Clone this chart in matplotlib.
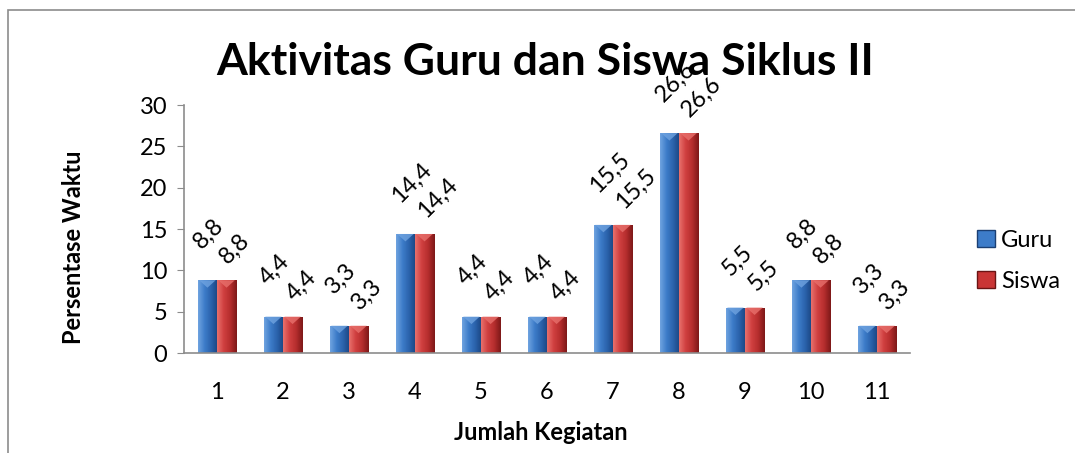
import numpy as np
import matplotlib
matplotlib.use("Agg")
import matplotlib.pyplot as plt
from matplotlib.colors import LinearSegmentedColormap
from matplotlib.patches import Rectangle, Polygon, Patch

categories = ["1", "2", "3", "4", "5", "6", "7", "8", "9", "10", "11"]
guru = [8.8, 4.4, 3.3, 14.4, 4.4, 4.4, 15.5, 26.6, 5.5, 8.8, 3.3]
siswa = [8.8, 4.4, 3.3, 14.4, 4.4, 4.4, 15.5, 26.6, 5.5, 8.8, 3.3]
labels_guru = ["8,8", "4,4", "3,3", "14,4", "4,4", "4,4", "15,5", "26,6", "5,5", "8,8", "3,3"]
labels_siswa = labels_guru

FONT = ["Lato", "DejaVu Sans"]
plt.rcParams["font.family"] = FONT

BLUE = LinearSegmentedColormap.from_list("b", ["#6fa3e0", "#3d7cc9", "#2a62ab", "#1b4580"])
RED = LinearSegmentedColormap.from_list("r", ["#e8706c", "#d04040", "#b52d2d", "#7d1818"])

fig = plt.figure(figsize=(10.75, 4.53), dpi=100)
# outer chart frame
fig.add_artist(Rectangle((8 / 1075, -0.1), 1.2, 1 - 10 / 453 + 0.1, transform=fig.transFigure,
                         fill=False, edgecolor="#8c8c8c", linewidth=1.2))

ax = fig.add_axes([184 / 1075, 1 - 353 / 453, 726 / 1075, 248 / 453])
x = np.arange(len(categories))
w = 0.29
grad = np.linspace(0, 1, 64).reshape(1, -1)


def fancy_bars(xs, vals, cmap, edge):
    bars = ax.bar(xs, vals, w, color=cmap(0.5), edgecolor=edge, linewidth=0.6, zorder=2)
    for b in bars:
        x0, h = b.get_x(), b.get_height()
        im = ax.imshow(grad, cmap=cmap, extent=(x0, x0 + w, 0, h), aspect="auto", zorder=2.5)
        im.set_clip_path(b)
        tri = Polygon([(x0 + 0.02, h), (x0 + w - 0.02, h), (x0 + w / 2, h - 0.9)], closed=True,
                      facecolor=cmap(0.0), alpha=0.8, edgecolor="none", zorder=3)
        ax.add_patch(tri)
    return bars


b1 = fancy_bars(x - w / 2, guru, BLUE, "#1b3f73")
b2 = fancy_bars(x + w / 2, siswa, RED, "#6a1414")

for i in range(len(categories)):
    ax.annotate(labels_guru[i], (x[i] - w, guru[i]), xytext=(5, 20), textcoords="offset points",
                rotation=45, rotation_mode="anchor", ha="left", va="bottom", fontsize=17)
    ax.annotate(labels_siswa[i], (x[i], siswa[i]), xytext=(10, 9), textcoords="offset points",
                rotation=45, rotation_mode="anchor", ha="left", va="bottom", fontsize=17)

ax.set_xlim(-0.5, len(categories) - 0.5)
ax.set_ylim(0, 30)
ax.set_yticks([0, 5, 10, 15, 20, 25, 30])
ax.set_xticks(x)
ax.set_xticklabels(categories)
ax.tick_params(axis="y", length=5, color="#8c8c8c", labelsize=17, pad=7)
ax.tick_params(axis="x", length=0, labelsize=17, pad=21)
for s in ("top", "right"):
    ax.spines[s].set_visible(False)
for s in ("left", "bottom"):
    ax.spines[s].set_color("#8c8c8c")
    ax.spines[s].set_linewidth(1.2)
ax.set_ylabel("Persentase Waktu", fontsize=17, fontweight="bold")
ax.set_xlabel("Jumlah Kegiatan", fontsize=17, fontweight="bold")
ax.yaxis.set_label_coords(-0.137, 0.427)
ax.xaxis.set_label_coords(0.492, -0.275)

fig.text(545 / 1075, 1 - 62 / 453, "Aktivitas Guru dan Siswa Siklus II", ha="center", va="center",
         fontsize=32, fontweight="bold")

# legend
handles = [Patch(facecolor="#3d7cc9", edgecolor="#1b3f73", label="Guru"),
           Patch(facecolor="#c93535", edgecolor="#6a1414", label="Siswa")]
fig.legend(handles=handles, loc="center left", bbox_to_anchor=(968 / 1075, 1 - 261 / 453),
           frameon=False, fontsize=17, handlelength=0.75, handleheight=0.75, handletextpad=0.25,
           labelspacing=0.85, borderaxespad=0)

fig.savefig("out.png", dpi=100)
